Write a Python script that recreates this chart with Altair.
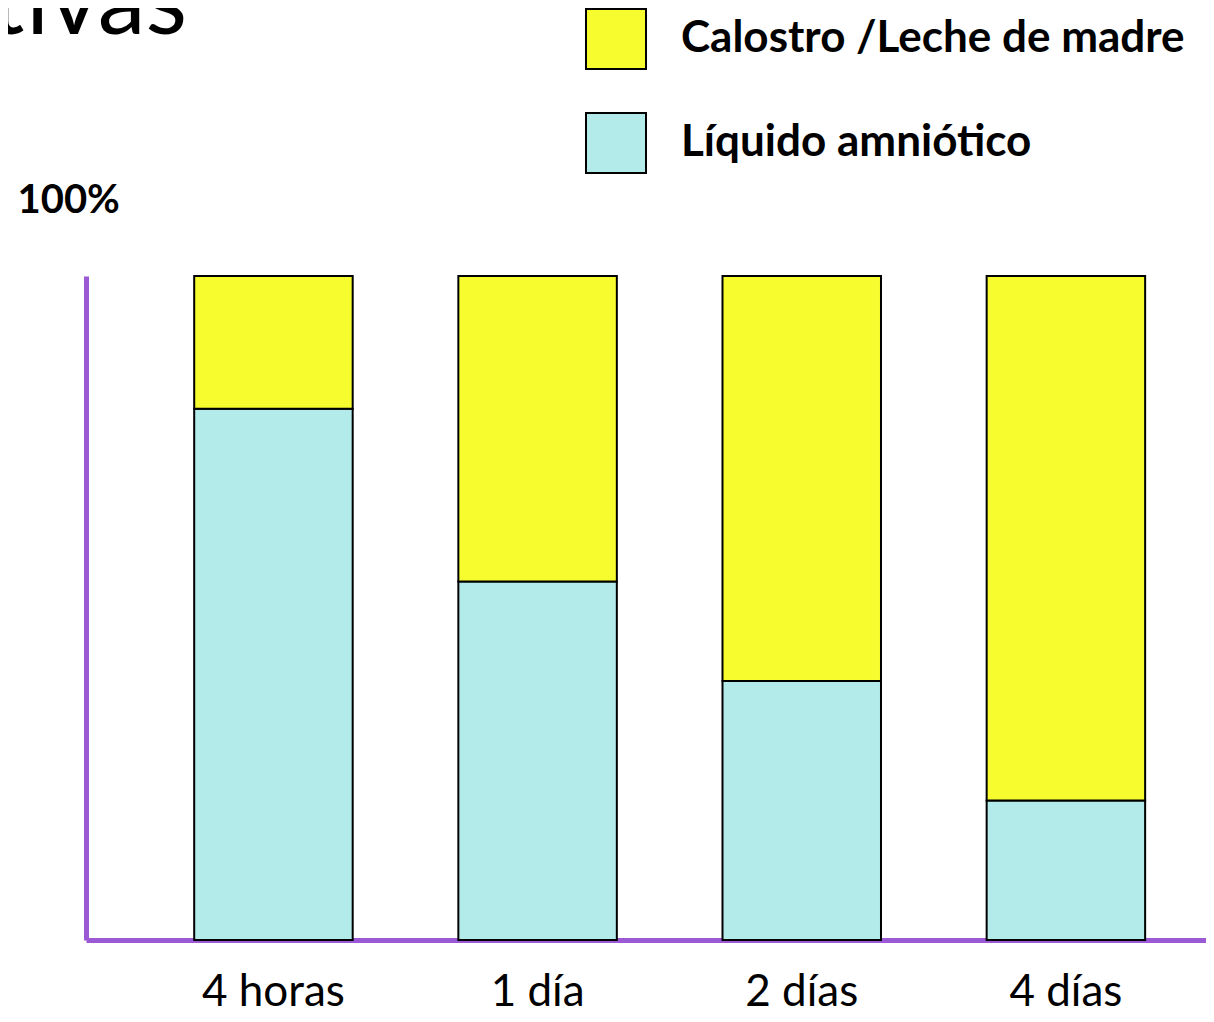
import altair as alt
import pandas as pd

categories = ["4 horas", "1 día", "2 días", "4 días"]
liquido = [80, 54, 39, 21]
calostro = [20, 46, 61, 79]
series = ["Calostro /Leche de madre", "Líquido amniótico"]
colors = ["#F7FC2F", "#B3EAEA"]
slide_title = ["tivas"]
purple = "#9B59D6"

rows = []
for i, c in enumerate(categories):
    rows.append({"tiempo": c, "serie": series[1], "valor": liquido[i], "orden": 0})
    rows.append({"tiempo": c, "serie": series[0], "valor": calostro[i], "orden": 1})
df = pd.DataFrame(rows)

bars = alt.Chart(df).mark_bar(stroke="black", strokeWidth=2).encode(
    x=alt.X("tiempo:N", sort=categories,
            scale=alt.Scale(paddingInner=0.40, paddingOuter=0.32, align=0.64),
            axis=alt.Axis(title=None, domainColor=purple, domainWidth=5, ticks=False,
                          labelAngle=0, labelFont="Lato", labelFontSize=44,
                          labelColor="black", labelPadding=30)),
    y=alt.Y("valor:Q", stack="zero", scale=alt.Scale(domain=[0, 100]),
            axis=alt.Axis(title="100%", titleAngle=0, titleAlign="left",
                          titleBaseline="middle", titleX=-69, titleY=-76,
                          titleFont="Lato", titleFontSize=40, titleFontWeight="bold",
                          titleColor="black", labels=False, ticks=False, grid=False,
                          domainColor=purple, domainWidth=5)),
    color=alt.Color("serie:N", scale=alt.Scale(domain=series, range=colors),
                    legend=alt.Legend(title=None, orient="none", legendX=499, legendY=-268,
                                      symbolType="square", symbolSize=3600,
                                      symbolStrokeColor="black", symbolStrokeWidth=2,
                                      symbolOpacity=1, labelFont="Lato", labelFontSize=44,
                                      labelFontWeight="bold", labelColor="black",
                                      labelOffset=34, rowPadding=36, padding=0,
                                      labelLimit=0)),
    order=alt.Order("orden:Q", sort="ascending"),
)

title_df = pd.DataFrame({"t": slide_title})
title_mark = alt.Chart(title_df).mark_text(
    font="Lato", fontSize=96, fontWeight="normal", color="black",
    align="right", baseline="alphabetic"
).encode(text="t:N", x=alt.value(101), y=alt.value(-242))

chart = alt.layer(bars, title_mark).properties(
    width=1120, height=664,
    autosize=alt.AutoSizeParams(type="none"),
    padding={"left": 78, "top": 268, "right": 0, "bottom": 74},
).configure_view(stroke=None)

chart.save("out.html", embed_options={"renderer": "svg", "actions": False})
